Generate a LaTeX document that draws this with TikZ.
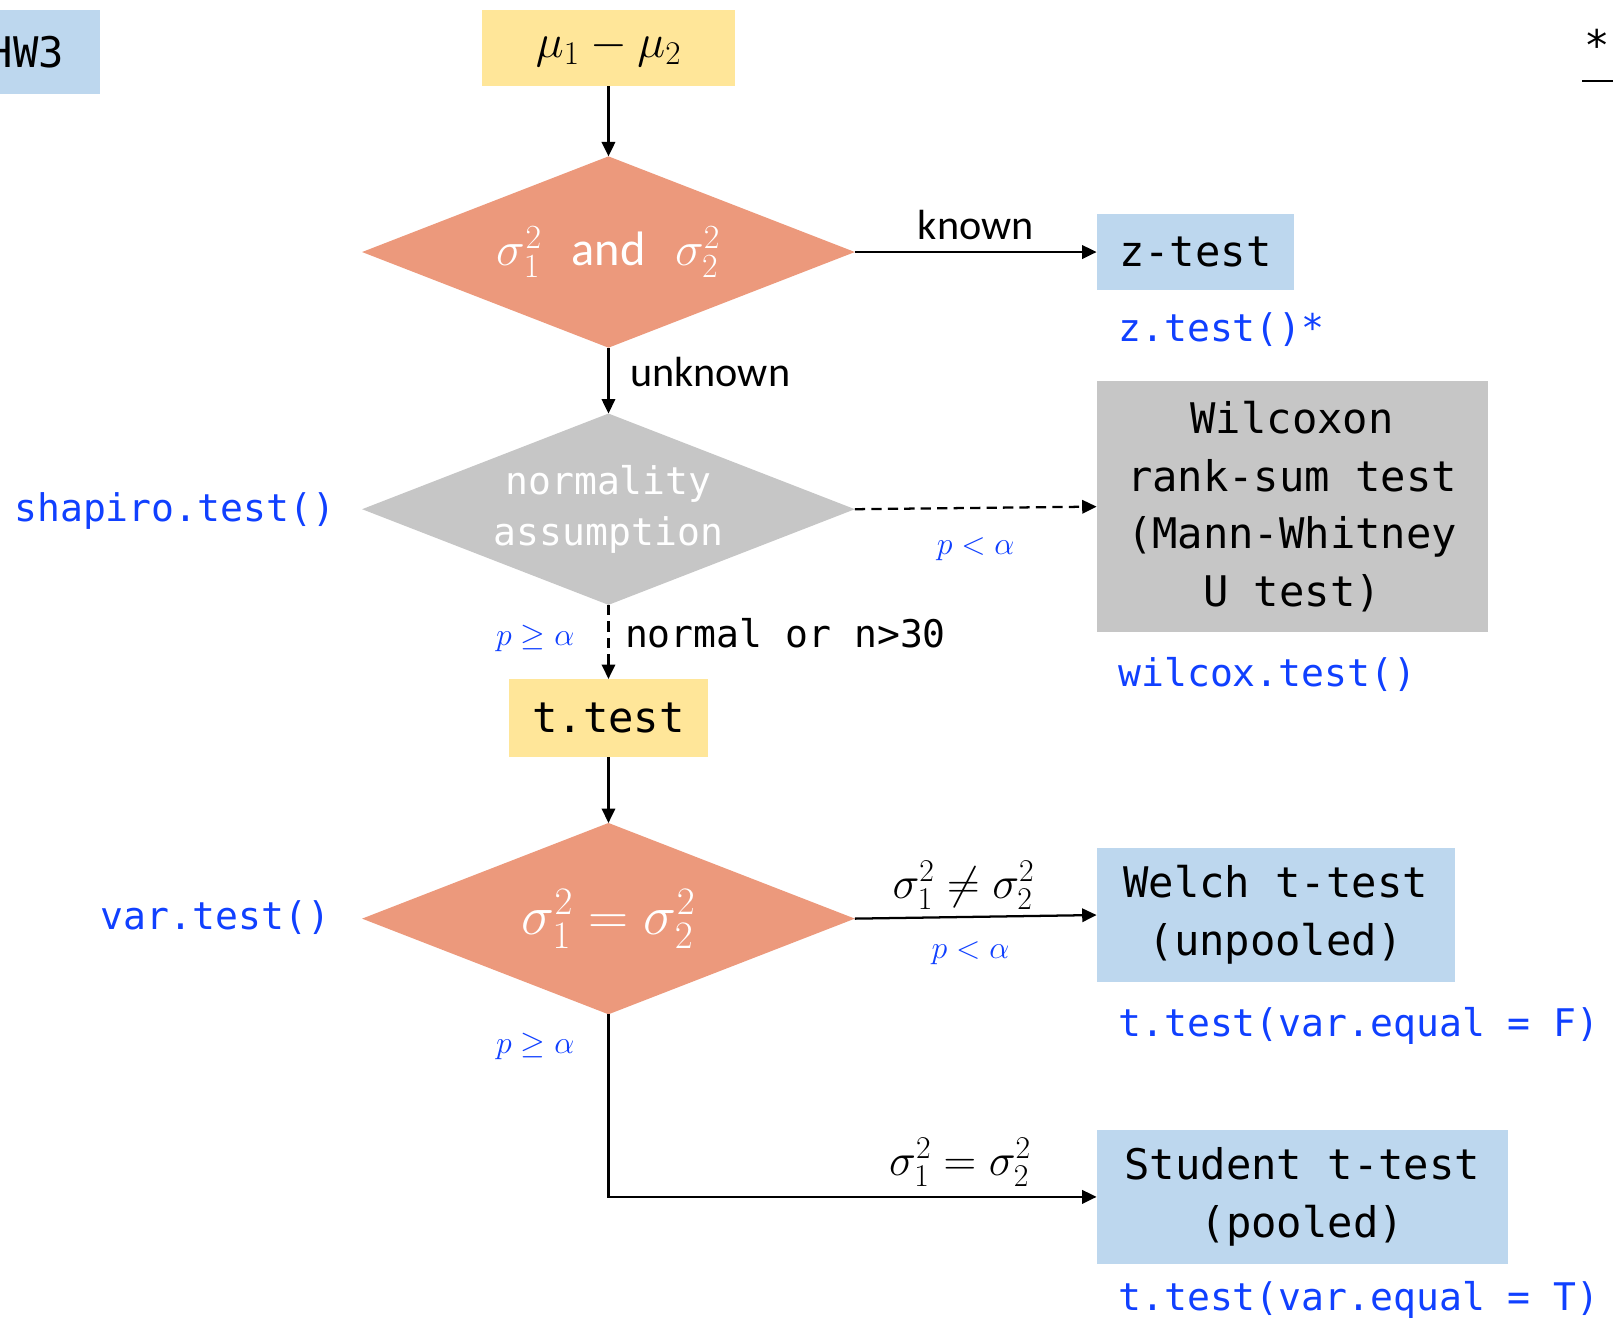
\documentclass[tikz,border=0pt]{standalone}
\usepackage{fix-cm}
\usepackage{fontspec}
\setmainfont{Carlito}
\setmonofont{DejaVu Sans Mono}
\usetikzlibrary{positioning,shapes.geometric,arrows.meta,calc}
\definecolor{hwblue}{HTML}{BDD7EE}
\definecolor{muyellow}{HTML}{FFE699}
\definecolor{salmon}{HTML}{EC997C}
\definecolor{greybox}{HTML}{C6C6C6}
\definecolor{codeblue}{RGB}{16,64,255}
\newcommand{\monofs}{\fontsize{41}{56}\selectfont\ttfamily}
\newcommand{\codefs}{\fontsize{37}{44}\selectfont\ttfamily}
\tikzstyle{ybox}=[rectangle, fill=muyellow, inner sep=0pt, outer sep=0pt, align=center, font=\monofs]
\tikzstyle{bbox}=[rectangle, fill=hwblue, inner sep=0pt, outer sep=0pt, align=center, font=\monofs]
\tikzstyle{gbox}=[rectangle, fill=greybox, inner sep=0pt, outer sep=0pt, align=center, font=\monofs]
\tikzstyle{sdia}=[diamond, aspect=2.6, fill=salmon, text=white, inner sep=0pt, outer sep=0pt,
                  minimum width=479pt, minimum height=186pt, align=center]
\tikzstyle{gdia}=[sdia, fill=greybox]
\tikzstyle{pline}=[-{Triangle[length=14pt,width=13pt]}, line width=2.2pt]
\tikzstyle{dline}=[pline, dash pattern=on 10pt off 6pt]
\tikzstyle{plab}=[font=\fontsize{31}{36}\selectfont, text=codeblue, inner sep=0pt]
\tikzstyle{elab}=[font=\fontsize{41}{48}\selectfont, inner sep=0pt]
\tikzstyle{mlab}=[font=\fontsize{44}{50}\selectfont, inner sep=0pt]
\tikzstyle{clab}=[inner sep=0pt]
\tikzstyle{rcode}=[clab, font=\codefs, text=codeblue]

\begin{document}
\begin{tikzpicture}[x=1pt,y=1pt]
\useasboundingbox (0,0) rectangle (1568,-1289);

\node (HW) [bbox, minimum width=144pt, minimum height=81pt] at (25,-50.5) {HW3};
\node (STAR) [clab, font=\monofs, anchor=north] at (1553,-28) {*};
\draw[line width=2.4pt] ($(STAR.north)+(-15,-51)$) -- ++(40,0);

% top of the chart
\node (MU) [ybox, minimum width=245pt, minimum height=74pt, font=\fontsize{46}{52}\selectfont]
  at (591.5,-47) {$\mu_1-\mu_2$};
\node (D1) [sdia, below=68pt of MU, font=\fontsize{47}{54}\selectfont]
  {$\sigma_1^2$\hspace{29pt}and\hspace{29pt}$\sigma_2^2$};
\node (ZT) [bbox, minimum width=192pt, minimum height=74pt, right=235pt of D1] {z-test};
\node (ZTC) [rcode, anchor=west] at ($(ZT.south west)+(21,-38)$) {z.test()*};

\draw[pline] (MU) -- (D1);
\draw[pline] (D1.east) -- node[elab, above=11pt] {known} (ZT.west);

% normality
\node (D2) [gdia, below=64pt of D1, font=\fontsize{37}{50}\selectfont\ttfamily] {normality\\assumption};
\node (WX) [gbox, minimum width=380pt, minimum height=244pt, right=235pt of D2, yshift=2.5pt]
  {Wilcoxon\\rank-sum test\\(Mann-Whitney\\U test)};
\node (WXC) [rcode, anchor=west] at ($(WX.south west)+(21,-41)$) {wilcox.test()};
\node (SHC) [rcode, anchor=east] at ($(D2.west)+(-26,-2)$) {shapiro.test()};

\draw[pline] (D1.south) -- node[elab, right=20pt, yshift=8pt] {unknown} (D2.north);
\draw[dline] (D2.east) -- node[plab, below=28pt] {$p<\alpha$} (WX.west);

% t.test
\node (TT) [ybox, minimum width=193pt, minimum height=76pt, below=72pt of D2] {t.test};
\draw[dline] (D2.south) -- node[plab, left=32pt, yshift=3pt] {$p\geq\alpha$}
  node[clab, font=\codefs, right=15pt, yshift=8pt] {normal or n>30} (TT.north);

% variances
\node (D3) [sdia, below=64pt of TT, font=\fontsize{54}{60}\selectfont] {$\sigma_1^2=\sigma_2^2$};
\node (VRC) [rcode, anchor=east] at ($(D3.west)+(-31,1)$) {var.test()};
\node (WE) [bbox, minimum width=348pt, minimum height=131pt, right=235pt of D3, yshift=3.5pt]
  {Welch t-test\\(unpooled)};
\node (WEC) [rcode, anchor=west] at ($(WE.south west)+(21,-42)$) {t.test(var.equal = F)};
\node (ST) [bbox, minimum width=400pt, minimum height=131pt, below right=143pt and 0pt of WE.south west]
  {Student t-test\\(pooled)};
\node (STC) [rcode, anchor=west] at ($(ST.south west)+(21,-35)$) {t.test(var.equal = T)};

\draw[pline] (TT) -- (D3);
\draw[pline] (D3.east) -- node[mlab, above=6pt, xshift=-12pt] {$\sigma_1^2\neq\sigma_2^2$}
  node[plab, below=23pt, xshift=-5pt] {$p<\alpha$} (WE.west);
\draw[pline] (D3.south) |- node[pos=0.0875, plab, left=32pt] {$p\geq\alpha$}
  node[pos=0.86, mlab, above=9pt] {$\sigma_1^2=\sigma_2^2$} (ST.west);

\end{tikzpicture}
\end{document}
